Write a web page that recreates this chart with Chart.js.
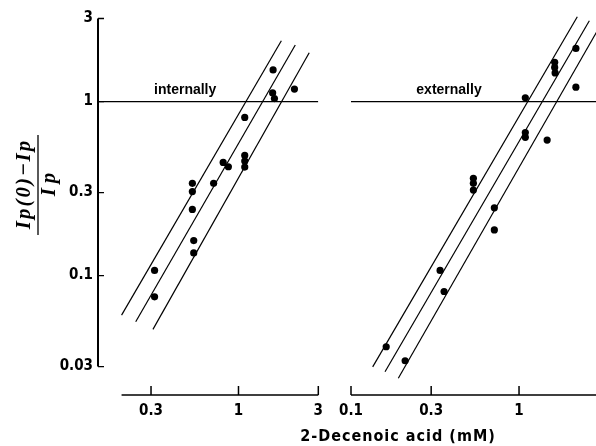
<!DOCTYPE html>
<html>
<head>
<meta charset="utf-8">
<script src="https://cdn.jsdelivr.net/npm/chart.js@4.4.1/dist/chart.umd.min.js"></script>
<style>
  html, body { margin: 0; padding: 0; background: #fff; overflow: hidden; }
  #wrap { position: relative; width: 596px; height: 446px; overflow: hidden; }
  #left { position: absolute; left: 0; top: 0; }
  #right { position: absolute; left: 330px; top: 0; }
  #xtitle {
    position: absolute; left: 248px; top: 426px; width: 300px; text-align: center;
    font: bold 16px "Liberation Sans Narrow", "DejaVu Sans Condensed", "Liberation Sans", sans-serif;
    letter-spacing: 1px; color: #000;
  }
</style>
</head>
<body>
<div id="wrap">
  <canvas id="left" width="330" height="446"></canvas>
  <canvas id="right" width="274" height="446"></canvas>
  <div id="xtitle">2-Decenoic acid (mM)</div>
</div>
<script>
  // ---- data ----
  // internally applied
  const inX = [1.61, 2.16, 1.60, 1.64, 1.09, 1.09, 1.09, 1.09, 0.81, 0.87, 0.71, 0.53, 0.53, 0.53, 0.54, 0.54, 0.315, 0.315];
  const inY = [1.52, 1.18, 1.12, 1.04, 0.81, 0.49, 0.455, 0.42, 0.447, 0.422, 0.339, 0.339, 0.304, 0.24, 0.159, 0.135, 0.107, 0.0755];
  // externally applied
  const exX = [2.18, 1.63, 1.63, 1.64, 2.18, 1.09, 1.09, 1.09, 1.47, 0.535, 0.535, 0.535, 0.713, 0.713, 0.339, 0.358, 0.162, 0.21];
  const exY = [2.02, 1.68, 1.57, 1.46, 1.21, 1.05, 0.664, 0.623, 0.601, 0.362, 0.339, 0.31, 0.245, 0.183, 0.107, 0.081, 0.039, 0.0324];
  // fitted line + bounds, each [x1, y1, x2, y2]
  const inLines = [[0.200, 0.0593, 1.804, 2.236], [0.243, 0.0543, 2.185, 2.112], [0.308, 0.0491, 2.647, 1.908]];
  const exLines = [[0.1346, 0.0299, 2.223, 3.07], [0.1594, 0.028, 2.621, 2.913], [0.1912, 0.0257, 2.901, 2.518]];
  const yTicks = [0.03, 0.1, 0.3, 1, 3];
  const inTicks = [0.3, 1, 3];
  const exTicks = [0.1, 0.3, 1];

  const FONT = '"Liberation Sans Narrow", "DejaVu Sans Condensed", "Liberation Sans", sans-serif';
  const Y_MIN = 0.0206, Y_MAX = 3;

  function pts(xs, ys) {
    return xs.map((x, i) => ({ x: x, y: ys[i] }));
  }

  function buildSets(xs, ys, lines, xMin, xMax) {
    const sets = [{
      data: pts(xs, ys),
      pointRadius: 3.6,
      pointBackgroundColor: '#000',
      pointBorderWidth: 0,
      showLine: false,
      order: 0
    }];
    lines.forEach(l => {
      sets.push({
        data: [{ x: l[0], y: l[1] }, { x: l[2], y: l[3] }],
        showLine: true, pointRadius: 0, borderColor: '#000', borderWidth: 1.2, clip: false, order: 1
      });
    });
    // y = 1 reference line
    sets.push({
      data: [{ x: xMin, y: 1 }, { x: xMax, y: 1 }],
      showLine: true, pointRadius: 0, borderColor: '#000', borderWidth: 1.3, order: 1
    });
    return sets;
  }

  // axis lines with inward ticks, panel label, y title
  const axisLines = {
    id: 'axisLines',
    afterDraw(chart, args, opts) {
      const { ctx, chartArea, scales: { x, y } } = chart;
      ctx.save();
      ctx.strokeStyle = '#000';
      ctx.lineWidth = 1.5;
      const yb = chartArea.bottom;
      ctx.beginPath();
      ctx.moveTo(x.getPixelForValue(opts.xFrom), yb);
      ctx.lineTo(x.getPixelForValue(opts.xTo), yb);
      opts.xTicks.forEach(v => {
        const px = x.getPixelForValue(v);
        ctx.moveTo(px, yb);
        ctx.lineTo(px, yb - 9);
      });
      ctx.stroke();

      if (opts.yAxis) {
        const xl = chartArea.left;
        ctx.lineWidth = 2;
        ctx.beginPath();
        ctx.moveTo(xl, y.getPixelForValue(yTicks[yTicks.length - 1]));
        ctx.lineTo(xl, y.getPixelForValue(yTicks[0]));
        ctx.stroke();
        ctx.lineWidth = 1.3;
        ctx.beginPath();
        yTicks.forEach(v => {
          const py = y.getPixelForValue(v);
          ctx.moveTo(xl, py);
          ctx.lineTo(xl + 6, py);
        });
        ctx.stroke();

        // y title: fraction, rotated
        ctx.save();
        ctx.translate(38, 185);
        ctx.rotate(-Math.PI / 2);
        ctx.fillStyle = '#000';
        ctx.textAlign = 'center';
        ctx.font = 'bold italic 21px "Liberation Serif", "DejaVu Serif", serif';
        ctx.letterSpacing = '2px';
        ctx.fillText('Ip(0)\u2212Ip', 1, -8);
        ctx.letterSpacing = '5px';
        ctx.fillText('Ip', 3, 17);
        ctx.lineWidth = 1.3;
        ctx.beginPath();
        ctx.moveTo(-50, 0);
        ctx.lineTo(50, 0);
        ctx.stroke();
        ctx.restore();
      }

      ctx.fillStyle = '#000';
      ctx.textAlign = 'center';
      ctx.textBaseline = 'alphabetic';
      ctx.letterSpacing = '0px';
      ctx.font = 'bold 14px "Liberation Sans", sans-serif';
      ctx.fillText(opts.note.text, x.getPixelForValue(opts.note.x), y.getPixelForValue(opts.note.y));
      ctx.restore();
    }
  };

  function makeChart(id, xs, ys, lines, xMin, xTicks, xFrom, note, withY, pad) {
    return new Chart(document.getElementById(id), {
      type: 'scatter',
      data: { datasets: buildSets(xs, ys, lines, xMin, 3) },
      plugins: [axisLines],
      options: {
        responsive: false,
        animation: false,
        layout: { padding: pad },
        plugins: {
          legend: { display: false },
          tooltip: { enabled: false },
          axisLines: { xFrom: xFrom, xTo: 3, xTicks: xTicks, yAxis: withY, note: note }
        },
        scales: {
          x: {
            type: 'logarithmic',
            min: xMin,
            max: 3,
            afterBuildTicks: s => { s.ticks = xTicks.map(v => ({ value: v })); },
            afterFit: s => { s.height = 51; },
            grid: { display: false, drawTicks: false },
            border: { display: false },
            ticks: {
              color: '#000',
              padding: 7,
              autoSkip: false,
              maxRotation: 0,
              font: { family: FONT, size: 15, weight: 'bold' },
              callback: v => String(v)
            }
          },
          y: {
            type: 'logarithmic',
            display: withY,
            min: Y_MIN,
            max: Y_MAX,
            afterBuildTicks: s => { s.ticks = yTicks.map(v => ({ value: v })); },
            afterFit: s => { s.width = withY ? 98 : 0; },
            grid: { display: false, drawTicks: false },
            border: { display: false },
            ticks: {
              color: '#000',
              padding: 5,
              font: { family: FONT, size: 15, weight: 'bold' },
              callback: v => String(v)
            }
          }
        }
      }
    });
  }

  makeChart('left', inX, inY, inLines, 0.1446, inTicks, 0.2,
    { text: 'internally', x: 0.48, y: 1.1 }, true,
    { left: 0, right: 10.5, top: 18.5, bottom: 0 });

  makeChart('right', exX, exY, exLines, 0.1, exTicks, 0.1,
    { text: 'externally', x: 0.383, y: 1.1 }, false,
    { left: 21, right: 4.8, top: 18.5, bottom: 0 });
</script>
</body>
</html>
